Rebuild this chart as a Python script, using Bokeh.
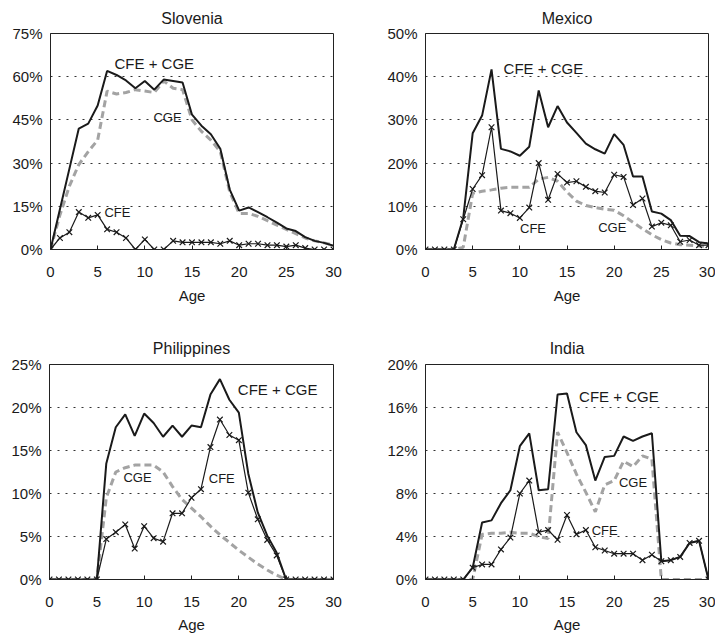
from bokeh.plotting import figure
from bokeh.layouts import row, column
from bokeh.models import Range1d, FixedTicker, PrintfTickFormatter, Label
from bokeh.embed import file_html
from bokeh.resources import INLINE

ages = list(range(31))
x_ticks = [0, 5, 10, 15, 20, 25, 30]

slo_total = [0, 14, 28, 42, 43.7, 50, 62, 60.6, 58.7, 56, 58.5, 55.5, 59, 58.5, 58, 46.8, 43, 40, 35, 20.8,
             13.5, 14.6, 13, 11.2, 9.3, 7.3, 6.4, 4.3, 3, 2.3, 1.3]
slo_cge = [0, 12, 22, 29.5, 34, 38, 55, 54, 54.5, 55.5, 55, 54.5, 58.5, 56, 55.5, 45, 41, 38, 34, 20,
           12.5, 12.5, 11.5, 10, 8.5, 7, 5.5, 4, 3, 2.3, 1.5]
slo_cfe = [0, 4, 6, 13, 11, 12, 7, 6, 4, 0, 3.5, 0, 0, 3, 2.5, 2.5, 2.5, 2.5, 2, 3,
           1.5, 2, 2, 1.5, 1.5, 1, 1.5, 0.5, 0, 0, 0]
slo_yticks = [0, 15, 30, 45, 60, 75]

mex_total = [0, 0, 0, 0, 7.3, 26.9, 31, 41.7, 23.3, 22.7, 21.7, 23.8, 36.8, 28.3, 33.2, 29.4, 27, 24.5, 23.2, 22.2,
             26.7, 24.2, 16.9, 16.9, 8.8, 8.3, 6.8, 3.2, 3.1, 1.7, 1.4]
mex_cge = [0, 0, 0, 0, 0.5, 13, 13.5, 13.8, 14.2, 14.4, 14.4, 14.4, 16.3, 16.7, 15.8, 13.3, 11.2, 10.2, 9.7, 9.3,
           9.1, 7.8, 6.3, 4.8, 3.4, 2.3, 1.5, 1.1, 1, 0.8, 0.7]
mex_cfe = [0, 0, 0, 0, 7, 14, 17.2, 28.3, 9, 8.4, 7.3, 9.7, 20, 11.5, 17.5, 15.5, 15.8, 14.5, 13.5, 13.2,
           17.3, 16.8, 10.3, 11.8, 5.3, 6.2, 5.6, 1.8, 2.2, 1, 1]
mex_yticks = [0, 10, 20, 30, 40, 50]

phi_total = [0, 0, 0, 0, 0, 0, 13.5, 17.7, 19.2, 16.7, 19.3, 18.2, 16.6, 17.9, 16.6, 17.9, 17.7, 21.5, 23.3, 20.9,
             19.4, 12.3, 7.8, 5.1, 3.1, 0, 0, 0, 0, 0, 0]
phi_cge = [0, 0, 0, 0, 0, 0, 9.5, 12.5, 13, 13.3, 13.3, 13.3, 12.5, 10.8, 9.3, 8.3, 7.3, 6.2, 5.2, 4.3,
           3.4, 2.6, 1.8, 1.1, 0.5, 0, 0, 0, 0, 0, 0]
phi_cfe = [0, 0, 0, 0, 0, 0, 4.7, 5.5, 6.4, 3.6, 6.2, 4.8, 4.4, 7.7, 7.7, 9.5, 10.5, 15.4, 18.6, 16.8,
           16.2, 10.1, 7, 4.6, 2.8, 0, 0, 0, 0, 0, 0]
phi_yticks = [0, 5, 10, 15, 20, 25]

ind_total = [0, 0, 0, 0, 0, 1.1, 5.3, 5.5, 7.1, 8.3, 12.4, 13.6, 8.3, 8.4, 17.2, 17.3, 13.7, 12.5, 9.2, 11.4,
             11.5, 13.3, 12.9, 13.3, 13.6, 1.7, 1.8, 2.1, 3.4, 3.6, 0]
ind_cge = [0, 0, 0, 0, 0, 0, 4.2, 4.3, 4.3, 4.4, 4.3, 4.3, 4, 3.8, 13.7, 11.8, 9.8, 8.1, 6.3, 8.8,
           9.2, 11, 10.5, 11.5, 11.2, 0, 0, 0, 0, 0, 0]
ind_cfe = [0, 0, 0, 0, 0, 1.1, 1.4, 1.4, 2.8, 3.9, 8, 9.2, 4.4, 4.6, 3.7, 6, 4.2, 4.6, 3, 2.7,
           2.4, 2.4, 2.4, 1.8, 2.3, 1.7, 1.8, 2.1, 3.4, 3.6, 0]
ind_yticks = [0, 4, 8, 12, 16, 20]

FONT = "Liberation Sans"


def panel(title, total, cge, cfe, yticks, labels, width, height, borders, title_standoff,
          tick_standoff, label_standoff):
    left, right, top, bottom = borders
    p = figure(width=width, height=height, x_range=Range1d(0, 30), y_range=Range1d(0, yticks[-1]),
               output_backend="svg", toolbar_location=None,
               min_border_left=left, min_border_right=right, min_border_top=top, min_border_bottom=bottom)
    p.title.text = title
    p.title.align = "center"
    p.title.text_font = FONT
    p.title.text_font_size = "16px"
    p.title.text_font_style = "normal"
    p.title.text_color = "#1a1a1a"
    p.title.text_line_height = 0.7
    p.title.standoff = title_standoff
    p.outline_line_color = "#222222"
    p.outline_line_width = 1
    p.background_fill_color = "white"
    p.border_fill_color = "white"

    p.xgrid.visible = False
    p.ygrid.ticker = FixedTicker(ticks=yticks)
    p.ygrid.grid_line_color = "#333333"
    p.ygrid.grid_line_dash = "2 6"
    p.ygrid.grid_line_width = 1

    p.xaxis.ticker = FixedTicker(ticks=x_ticks)
    p.xaxis.axis_label = "Age"
    p.xaxis.axis_label_text_font = FONT
    p.xaxis.axis_label_text_font_size = "15px"
    p.xaxis.axis_label_text_font_style = "normal"
    p.xaxis.axis_label_text_color = "#1a1a1a"
    p.xaxis.axis_label_standoff = label_standoff
    p.xaxis.major_tick_in = 4
    p.xaxis.major_tick_out = 0
    p.xaxis.minor_tick_line_color = None
    p.xaxis.major_label_standoff = tick_standoff

    p.yaxis.ticker = FixedTicker(ticks=yticks)
    p.yaxis.formatter = PrintfTickFormatter(format="%d%%")
    p.yaxis.major_tick_in = 0
    p.yaxis.major_tick_out = 0
    p.yaxis.minor_tick_line_color = None
    p.yaxis.major_label_standoff = 8

    for ax in (p.xaxis, p.yaxis):
        ax.axis_line_color = "#222222"
        ax.major_tick_line_color = "#222222"
        ax.major_label_text_font = FONT
        ax.major_label_text_font_size = "15px"
        ax.major_label_text_color = "#1a1a1a"

    p.line(ages, cge, line_color="#a3a3a3", line_width=3, line_dash="7 4")
    p.line(ages, cfe, line_color="#1a1a1a", line_width=1.2)
    p.scatter(ages, cfe, marker="x", size=8, line_color="#1a1a1a", line_width=1.2)
    p.line(ages, total, line_color="#1a1a1a", line_width=2)

    for (txt, lx, ly, fs) in labels:
        p.add_layout(Label(x=lx, y=ly, text=txt, text_font=FONT, text_font_size=fs, text_color="#1a1a1a",
                           text_align="center", text_baseline="middle"))
    return p


p1 = panel("Slovenia", slo_total, slo_cge, slo_cfe, slo_yticks,
           [("CFE + CGE", 11.0, 64.6, "15px"), ("CGE", 12.4, 45.8, "13px"), ("CFE", 7.1, 12.8, "13px")],
           370, 328, (50, 37, 33, 79), 14, 17, 7)
p2 = panel("Mexico", mex_total, mex_cge, mex_cfe, mex_yticks,
           [("CFE + CGE", 12.5, 41.9, "15px"), ("CFE", 11.4, 4.8, "13px"), ("CGE", 19.8, 5.0, "13px")],
           345, 328, (55, 7, 33, 78), 14, 17, 7)
p3 = panel("Philippines", phi_total, phi_cge, phi_cfe, phi_yticks,
           [("CFE + CGE", 24.1, 22.1, "15px"), ("CGE", 9.3, 11.9, "13px"), ("CFE", 18.2, 11.8, "13px")],
           370, 307, (49, 37, 35, 55), 15, 17, 6)
p4 = panel("India", ind_total, ind_cge, ind_cfe, ind_yticks,
           [("CFE + CGE", 20.5, 17.0, "15px"), ("CGE", 22.0, 9.0, "13px"), ("CFE", 19.0, 4.6, "13px")],
           345, 307, (55, 7, 36, 53), 15, 17, 6)

layout = column(row(p1, p2), row(p3, p4))
open("out.html", "w").write(file_html(layout, INLINE))
